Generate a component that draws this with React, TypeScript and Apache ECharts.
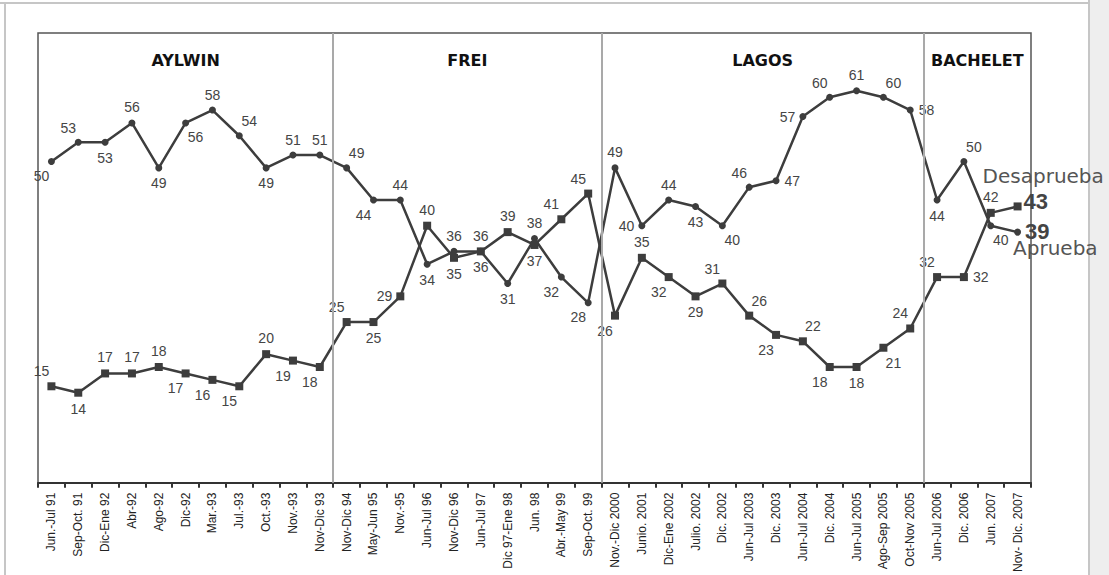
import React, { useEffect, useRef } from "react";
import * as echarts from "echarts";

const categories = [
  "Jun.-Jul 91", "Sep-Oct. 91", "Dic-Ene 92", "Abr-92", "Ago-92", "Dic-92", "Mar.-93", "Jul.-93", "Oct.-93", "Nov.-93", "Nov-Dic 93",
  "Nov-Dic 94", "May-Jun 95", "Nov.-95", "Jun-Jul 96", "Nov-Dic 96", "Jun-Jul 97", "Dic 97-Ene 98", "Jun. 98", "Abr.-May 99", "Sep-Oct. 99",
  "Nov.-Dic 2000", "Junio. 2001", "Dic-Ene 2002", "Julio. 2002", "Dic. 2002", "Jun-Jul 2003", "Dic. 2003", "Jun-Jul 2004", "Dic. 2004", "Jun-Jul 2005", "Ago-Sep 2005", "Oct-Nov 2005",
  "Jun-Jul 2006", "Dic. 2006", "Jun. 2007", "Nov- Dic. 2007",
];

const aprueba = [
  50, 53, 53, 56, 49, 56, 58, 54, 49, 51, 51,
  49, 44, 44, 34, 36, 36, 31, 38, 32, 28,
  49, 40, 44, 43, 40, 46, 47, 57, 60, 61, 60, 58,
  44, 50, 40, 39,
];

const desaprueba = [
  15, 14, 17, 17, 18, 17, 16, 15, 20, 19, 18,
  25, 25, 29, 40, 35, 36, 39, 37, 41, 45,
  26, 35, 32, 29, 31, 26, 23, 22, 18, 18, 21, 24,
  32, 32, 42, 43,
];

const periodNames = ["AYLWIN", "FREI", "LAGOS", "BACHELET"];
const periodFirst = [0, 11, 21, 33];
const periodLast = [10, 20, 32, 36];

// label placement codes (styling only)
const aprLabelPos = [
  "BL", "TL", "B", "T", "B", "BR", "T", "TR", "B", "T", "T",
  "TR", "BL", "T", "B", "T", "T", "B", "T", "BL", "BL",
  "T", "L", "T", "B", "BR", "TL", "R", "L", "TL", "T", "TR", "R",
  "B", "TR", "BR", "END",
];
const desLabelPos = [
  "TL", "B", "T", "T", "T", "BL", "BL", "BL", "T", "BL", "BL",
  "TL", "B", "L", "T", "B", "B", "T", "B", "TL", "TL",
  "BL", "T", "BL", "B", "TL", "TR", "BL", "TR", "BL", "B", "BR", "TL",
  "TL", "R", "T", "END",
];

const LABEL_BASE = {
  show: true,
  color: "#454545",
  fontSize: 14,
  fontFamily: "Liberation Sans, Arial, sans-serif",
};

function labelFor(code: string, seriesName: string) {
  switch (code) {
    case "T": return { ...LABEL_BASE, position: "top", distance: 5 };
    case "B": return { ...LABEL_BASE, position: "bottom", distance: 5 };
    case "L": return { ...LABEL_BASE, position: "left", distance: 4 };
    case "R": return { ...LABEL_BASE, position: "right", distance: 5 };
    case "TL": return { ...LABEL_BASE, position: "top", distance: 4, offset: [-10, 0] };
    case "TR": return { ...LABEL_BASE, position: "top", distance: 4, offset: [10, 0] };
    case "BL": return { ...LABEL_BASE, position: "bottom", distance: 4, offset: [-10, 0] };
    case "BR": return { ...LABEL_BASE, position: "bottom", distance: 4, offset: [10, 0] };
    case "END":
      if (seriesName === "Desaprueba") {
        return {
          show: true,
          position: "right",
          distance: 5,
          align: "left",
          offset: [-44, -17],
          formatter: (p: any) => `{n|Desaprueba}\n{v|${p.value}}`,
          rich: {
            n: { fontFamily: "DejaVu Sans", fontSize: 20, color: "#555", lineHeight: 24 },
            v: { fontFamily: "Liberation Sans", fontWeight: "bold", fontSize: 22, color: "#444", lineHeight: 26, padding: [0, 0, 0, 41] },
          },
        };
      }
      return {
        show: true,
        position: "right",
        distance: 5,
        align: "left",
        offset: [-13, 8],
        formatter: (p: any) => `{v|${p.value}}\n{n|Aprueba}`,
        rich: {
          v: { fontFamily: "Liberation Sans", fontWeight: "bold", fontSize: 22, color: "#444", lineHeight: 16, padding: [0, 0, 0, 12] },
          n: { fontFamily: "DejaVu Sans", fontSize: 20, color: "#555", lineHeight: 18 },
        },
      };
  }
  return LABEL_BASE;
}

export default function App() {
  const ref = useRef<HTMLDivElement>(null);

  useEffect(() => {
    document.body.style.margin = "0";
    if (!ref.current) return;
    const chart = echarts.init(ref.current, undefined, { renderer: "svg" });

    const aprData = aprueba.map((v, i) => ({ value: v, label: labelFor(aprLabelPos[i], "Aprueba") }));
    const desData = desaprueba.map((v, i) => ({ value: v, label: labelFor(desLabelPos[i], "Desaprueba") }));

    const separators = periodFirst.slice(1).map((f) => ({ xAxis: f - 0.5 }));
    const areas = periodNames.map((name, i) => [
      { xAxis: periodFirst[i] - 0.5, name },
      { xAxis: periodLast[i] + 0.5 },
    ]);

    chart.setOption({
      animation: false,
      backgroundColor: "#ffffff",
      grid: {
        left: 38,
        right: 78,
        top: 33,
        bottom: 92,
        show: true,
        borderColor: "#555",
        borderWidth: 1.5,
        backgroundColor: "transparent",
      },
      xAxis: [
        {
          type: "category",
          data: categories,
          boundaryGap: true,
          axisLine: { lineStyle: { color: "#333", width: 2 } },
          axisTick: { show: true, length: 5, lineStyle: { color: "#333", width: 2 } },
          axisLabel: {
            interval: 0,
            rotate: 90,
            fontSize: 12,
            color: "#222",
            fontFamily: "Liberation Sans, Arial, sans-serif",
            margin: 10,
          },
          splitLine: { show: false },
        },
        {
          type: "value",
          min: -0.5,
          max: 36.5,
          show: false,
        },
      ],
      yAxis: {
        type: "value",
        min: 0,
        max: 70,
        show: false,
        splitLine: { show: false },
      },
      series: [
        {
          name: "periods",
          type: "line",
          xAxisIndex: 1,
          data: [],
          silent: true,
          markLine: {
            silent: true,
            symbol: "none",
            label: { show: false },
            lineStyle: { color: "#a9a9a9", width: 2, type: "solid" },
            data: separators,
          },
          markArea: {
            silent: true,
            itemStyle: { color: "rgba(0,0,0,0)" },
            label: {
              show: true,
              position: "insideTop",
              distance: 19,
              fontFamily: "DejaVu Sans",
              fontWeight: "bold",
              fontSize: 16,
              color: "#111",
            },
            data: areas,
          },
        },
        {
          name: "Aprueba",
          type: "line",
          data: aprData,
          symbol: "circle",
          symbolSize: 7,
          lineStyle: { color: "#3d3d3d", width: 2.5 },
          itemStyle: { color: "#3d3d3d" },
          z: 3,
        },
        {
          name: "Desaprueba",
          type: "line",
          data: desData,
          symbol: "rect",
          symbolSize: 8,
          lineStyle: { color: "#3d3d3d", width: 2.5 },
          itemStyle: { color: "#3d3d3d" },
          z: 4,
        },
      ],
      graphic: [
        { type: "rect", shape: { x: 1090, y: 0, width: 19, height: 575 }, style: { fill: "#eeeeee" }, silent: true },
        { type: "line", shape: { x1: 0, y1: 3, x2: 1090, y2: 3 }, style: { stroke: "#c6c6c6", lineWidth: 2 }, silent: true },
        { type: "line", shape: { x1: 5, y1: 3, x2: 5, y2: 575 }, style: { stroke: "#c6c6c6", lineWidth: 2 }, silent: true },
        { type: "line", shape: { x1: 1089, y1: 0, x2: 1089, y2: 575 }, style: { stroke: "#c6c6c6", lineWidth: 2 }, silent: true },
      ],
    });

    return () => chart.dispose();
  }, []);

  return <div ref={ref} style={{ width: 1109, height: 575 }} />;
}
